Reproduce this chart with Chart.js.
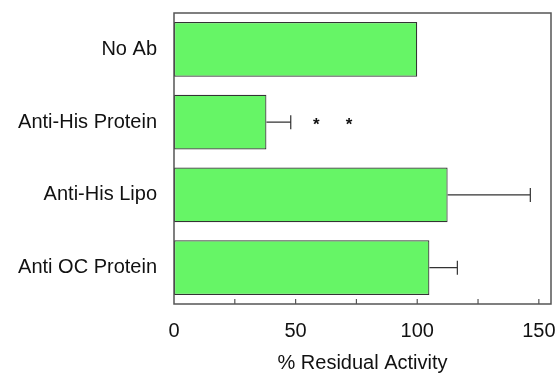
<!DOCTYPE html>
<html>
<head>
<meta charset="utf-8">
<script src="https://cdn.jsdelivr.net/npm/chart.js@4/dist/chart.umd.min.js"></script>
<style>
  html, body { margin: 0; padding: 0; background: #fff; }
  #wrap { width: 558px; height: 377px; }
</style>
</head>
<body>
<div id="wrap"><canvas id="chart0"></canvas></div>
<script>
const groups = ["No Ab", "Anti-His Protein", "Anti-His Lipo", "Anti OC Protein"];
const activity = [100, 38, 112.5, 105];
const activityErr = [0, 10, 34, 11.5];
// significance marks for Anti-His Protein
const starGroup = 1;
const starValues = [58.5, 72];
const xTicks = [0, 25, 50, 75, 100, 125, 150];
const axisMax = 155;

const textColor = "#111111";
const frameColor = "#555555";
const fontFamily = "'Liberation Sans', Arial, sans-serif";

// frame, inward ticks, error bars and stars
const extras = {
    id: "extras",
    afterDatasetsDraw(chart) {
        const ctx = chart.ctx;
        const area = chart.chartArea;
        const xs = chart.scales.x;
        const ys = chart.scales.y;
        ctx.save();

        // error bars
        ctx.strokeStyle = "#333333";
        ctx.lineWidth = 1.2;
        for (let i = 0; i < activity.length; i++) {
            if (!activityErr[i]) continue;
            const y = ys.getPixelForValue(i);
            const x0 = xs.getPixelForValue(activity[i]);
            const x1 = xs.getPixelForValue(activity[i] + activityErr[i]);
            ctx.beginPath();
            ctx.moveTo(x0, y);
            ctx.lineTo(x1, y);
            ctx.moveTo(x1, y - 7);
            ctx.lineTo(x1, y + 7);
            ctx.stroke();
        }

        // stars
        ctx.fillStyle = textColor;
        ctx.font = "bold 17px " + fontFamily;
        ctx.textAlign = "center";
        ctx.textBaseline = "middle";
        const sy = ys.getPixelForValue(starGroup);
        starValues.forEach(v => {
            ctx.fillText("*", xs.getPixelForValue(v), sy + 3);
        });

        // frame
        ctx.strokeStyle = frameColor;
        ctx.lineWidth = 1.5;
        ctx.strokeRect(area.left, area.top, area.right - area.left, area.bottom - area.top);

        // inward ticks on the bottom axis
        ctx.lineWidth = 1.2;
        xs.ticks.forEach(t => {
            if (t.value === 0) return;
            const x = xs.getPixelForValue(t.value);
            ctx.beginPath();
            ctx.moveTo(x, area.bottom);
            ctx.lineTo(x, area.bottom - 5);
            ctx.stroke();
        });
        ctx.restore();
    }
};

new Chart(document.getElementById("chart0").getContext("2d"), {
    type: "bar",
    data: {
        labels: groups,
        datasets: [{
            data: activity,
            backgroundColor: "#66f566",
            borderColor: "#333333",
            borderWidth: 1.2,
            borderSkipped: false,
            barPercentage: 0.75,
            categoryPercentage: 1.0
        }]
    },
    options: {
        indexAxis: "y",
        responsive: true,
        maintainAspectRatio: false,
        animation: false,
        layout: { padding: { top: 13, right: 7, left: 0, bottom: 0 } },
        plugins: {
            legend: { display: false },
            tooltip: { enabled: false }
        },
        scales: {
            x: {
                min: 0,
                max: axisMax,
                border: { display: false },
                grid: { display: false, drawTicks: false },
                afterBuildTicks(scale) {
                    scale.ticks = xTicks.map(v => ({ value: v }));
                },
                ticks: {
                    autoSkip: false,
                    maxRotation: 0,
                    padding: 15,
                    color: textColor,
                    font: { family: fontFamily, size: 20 },
                    callback: v => (v % 50 === 0 ? String(v) : "")
                },
                title: {
                    display: true,
                    text: "% Residual Activity",
                    color: textColor,
                    font: { family: fontFamily, size: 20 },
                    padding: { top: 0, bottom: 2 }
                },
                afterFit(scale) {
                    scale.height = 73;
                    scale.paddingLeft = 0;
                    scale.paddingRight = 0;
                }
            },
            y: {
                border: { display: false },
                grid: { display: false, drawTicks: false },
                ticks: {
                    padding: 17,
                    color: textColor,
                    font: { family: fontFamily, size: 20 }
                },
                afterFit(scale) {
                    scale.width = 174;
                    scale.paddingTop = 0;
                    scale.paddingBottom = 0;
                }
            }
        }
    },
    plugins: [extras]
});
</script>
</body>
</html>
